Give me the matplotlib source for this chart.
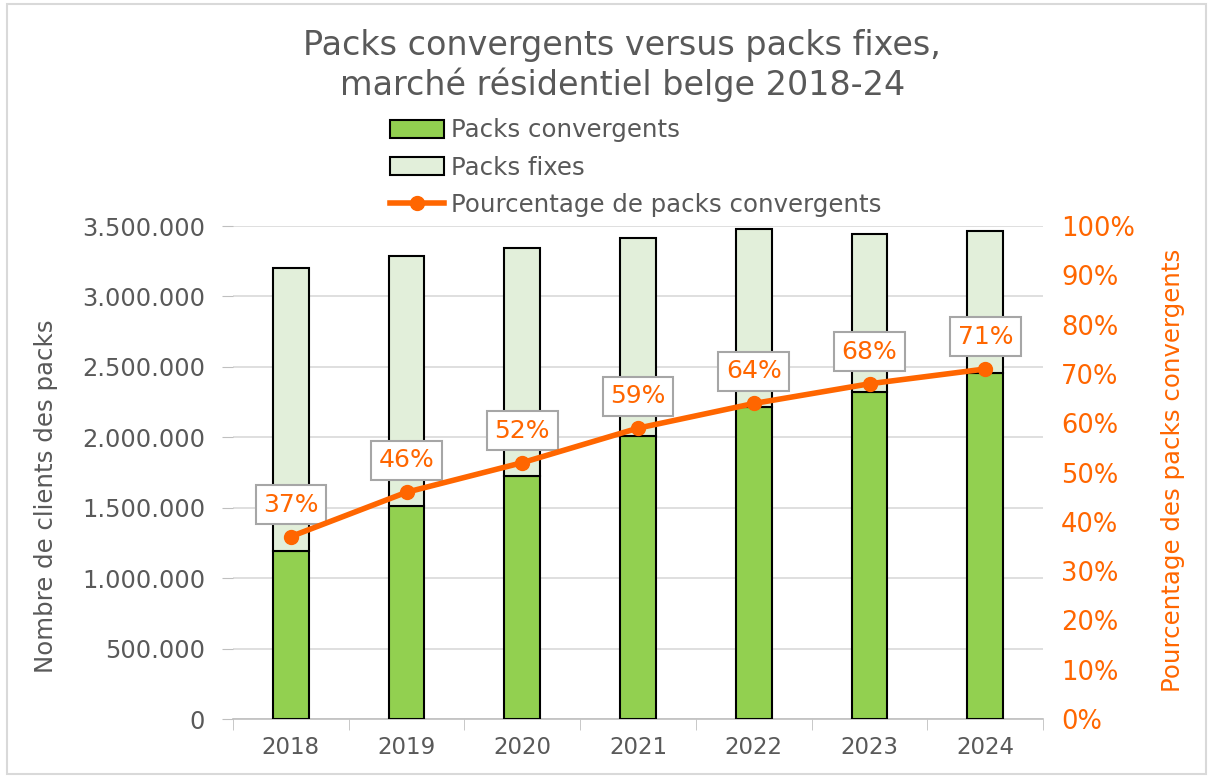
import matplotlib.pyplot as plt
import numpy as np
from matplotlib.ticker import FuncFormatter, MultipleLocator
from matplotlib.lines import Line2D
from matplotlib.patches import Patch

# Data
years = ['2018', '2019', '2020', '2021', '2022', '2023', '2024']
convergents = [1190000, 1510000, 1725000, 2010000, 2215000, 2320000, 2455000]
totaux = [3200000, 3285000, 3345000, 3415000, 3480000, 3445000, 3465000]
fixes = [t - c for t, c in zip(totaux, convergents)]
pourcentage = [37, 46, 52, 59, 64, 68, 71]

plt.rcParams['font.family'] = ['DejaVu Sans']
gris = '#595959'
orange = '#FF6600'

fig = plt.figure(figsize=(12.13, 7.78), dpi=100)
ax = fig.add_axes([0.192, 0.0758, 0.668, 0.6337])
x = np.arange(len(years))

ax.bar(x, convergents, width=0.31, color='#92D050', edgecolor='black', linewidth=1.5, zorder=3)
ax.bar(x, fixes, width=0.31, bottom=convergents, color='#E2EFDA', edgecolor='black', linewidth=1.5, zorder=3)

ax.set_ylim(0, 3500000)
ax.set_xlim(-0.5, len(years) - 0.5)
ax.yaxis.set_major_locator(MultipleLocator(500000))
ax.yaxis.set_major_formatter(FuncFormatter(lambda v, p: f'{int(v):,}'.replace(',', '.')))
ax.grid(axis='y', color='#D9D9D9', linewidth=1.2, zorder=0)
ax.set_xticks(x)
ax.set_xticklabels(years)
ax.set_xticks(np.arange(-0.5, len(years), 1), minor=True)
ax.tick_params(axis='x', which='major', length=0, labelsize=16.5, labelcolor=gris, pad=12)
ax.tick_params(axis='x', which='minor', length=8, color='#BFBFBF', direction='out')
ax.tick_params(axis='y', length=8, color='#BFBFBF', labelsize=17.4, labelcolor=gris, pad=12)
for s in ['top', 'right', 'left']:
    ax.spines[s].set_visible(False)
ax.spines['bottom'].set_color('#BFBFBF')
ax.spines['bottom'].set_linewidth(1.2)
ax.set_ylabel('Nombre de clients des packs', fontsize=17.6, color=gris)
ax.yaxis.set_label_coords(-0.216, 0.452)

ax2 = ax.twinx()
ax2.plot(x, pourcentage, color=orange, linewidth=4, marker='o', markersize=10, zorder=5)
ax2.set_ylim(0, 100)
ax2.yaxis.set_major_locator(MultipleLocator(10))
ax2.yaxis.set_major_formatter(FuncFormatter(lambda v, p: f'{int(v)}%'))
ax2.tick_params(axis='y', length=0, labelsize=18.5, labelcolor=orange, pad=13)
for s in ['top', 'right', 'left', 'bottom']:
    ax2.spines[s].set_visible(False)
ax2.set_ylabel('Pourcentage des packs convergents', fontsize=17.6, color=orange)
ax2.yaxis.set_label_coords(1.145, 0.505)

for xi, p in zip(x, pourcentage):
    ax2.annotate(f'{p}%', (xi, p), xytext=(0, 32), textcoords='offset pixels',
                 ha='center', va='center', fontsize=18, color=orange,
                 bbox=dict(boxstyle='square,pad=0.3', facecolor='white', edgecolor='#A6A6A6', linewidth=1.5))

fig.text(0.513, 0.916, 'Packs convergents versus packs fixes,\nmarché résidentiel belge 2018-24',
         ha='center', va='center', fontsize=24, color=gris, linespacing=1.2)

handles = [Patch(facecolor='#92D050', edgecolor='black', linewidth=1.5),
           Patch(facecolor='#E2EFDA', edgecolor='black', linewidth=1.5),
           Line2D([0], [0], color=orange, linewidth=4, marker='o', markersize=10)]
labels = ['Packs convergents', 'Packs fixes', 'Pourcentage de packs convergents']
fig.legend(handles, labels, loc='upper left', bbox_to_anchor=(0.3215, 0.848), frameon=False,
           fontsize=17.6, labelcolor=gris, handlelength=2.2, handleheight=0.75,
           handletextpad=0.3, labelspacing=0.55, borderaxespad=0, borderpad=0)

fig.patches.append(plt.Rectangle((0.006, 0.005), 0.988, 0.99, transform=fig.transFigure,
                                 fill=False, edgecolor='#D9D9D9', linewidth=1.5))

fig.savefig('out.png', dpi=100)
